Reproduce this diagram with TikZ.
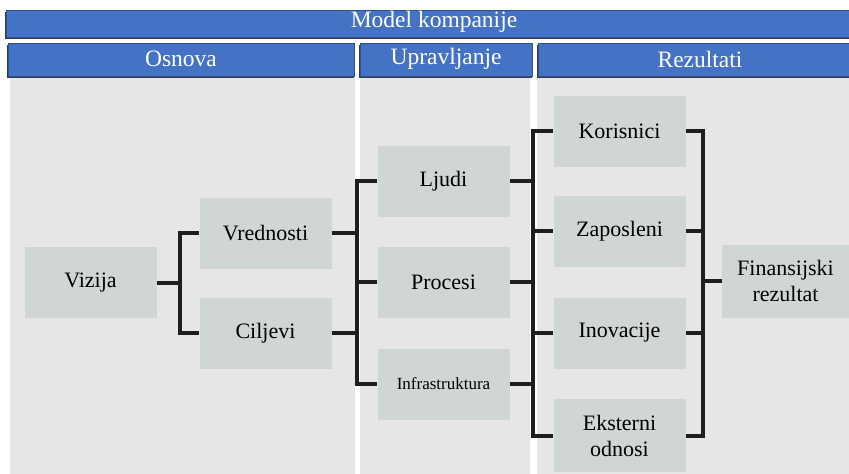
\documentclass[tikz,border=0pt]{standalone}
\usepackage{fontspec}
\setmainfont{Liberation Serif}
\definecolor{hdrblue}{HTML}{4472C4}
\definecolor{hdredge}{HTML}{2F528F}
\definecolor{hdrshadow}{HTML}{3A3A3A}
\definecolor{colbg}{HTML}{E6E6E6}
\definecolor{boxfill}{HTML}{D0D5D6}
\definecolor{linkc}{HTML}{1E1E1E}
\tikzset{
  header/.style={fill=hdrblue, draw=hdredge, line width=1pt},
  hdrshade/.style={fill=hdrshadow},
  hdrtext/.style={text=white, font=\fontsize{23.5}{26}\selectfont, inner sep=0pt},
  item/.style={fill=boxfill, minimum width=132pt, minimum height=71pt, inner sep=2pt,
    align=center, font=\fontsize{22}{26}\selectfont},
  link/.style={draw=linkc, line width=4pt, line join=miter}
}
\begin{document}
\begin{tikzpicture}[x=1pt,y=-1pt]
\useasboundingbox (0,0) rectangle (849,474);
\clip (0,0) rectangle (849,474);
\fill[white] (0,0) rectangle (849,474);

% column backgrounds
\fill[colbg] (10,78) rectangle (355,474);
\fill[colbg] (360,78) rectangle (530,474);
\fill[colbg] (537,78) rectangle (862,474);

% title bar
\fill[hdrshade] (5,11.5) rectangle (862,38.5);
\draw[header] (6,10) rectangle (862,37);
\node[hdrtext] (title) at (434,22) {Model kompanije};

% section headers
\fill[hdrshade] (7,44.5) rectangle (354,77.5);
\draw[header] (8,43) rectangle (354,76);
\node[hdrtext] (osn) at (181,59) {Osnova};
\fill[hdrshade] (359,44.5) rectangle (532,77.5);
\draw[header] (360,43) rectangle (532,76);
\node[hdrtext] (upr) at (446,59) {Upravljanje};
\fill[hdrshade] (537,44.5) rectangle (862,77.5);
\draw[header] (538,43) rectangle (862,76);
\node[hdrtext] (rez) at (700,59) {Rezultati};

% boxes
\node[item] (viz) at (90.5,282.5) {Vizija};
\node[item] (vre) at (265.5,233) {Vrednosti};
\node[item] (cil) at (265.5,333) {Ciljevi};
\node[item] (lju) at (443.5,181) {Ljudi};
\node[item] (pro) at (443.5,282) {Procesi};
\node[item, font=\fontsize{17}{20}\selectfont] (inf) at (443.5,384) {Infrastruktura};
\node[item] (kor) at (619.5,131) {Korisnici};
\node[item] (zap) at (619.5,231) {Zaposleni};
\node[item] (ino) at (619.5,333) {Inovacije};
\node[item, minimum height=73pt] (eks) at (619.5,435.5) {Eksterni\\odnosi};
\node[item, minimum width=127pt, minimum height=73pt] (fin) at (785.5,281) {Finansijski\\rezultat};

% bus positions
\coordinate (b1) at (180,0);
\coordinate (b2) at (357,0);
\coordinate (b3) at (533,0);
\coordinate (b4) at (703,0);

% Vizija -> Vrednosti / Ciljevi
\draw[link] (viz.east) -- (viz.east -| b1);
\draw[link] (vre.west) -| (b1 |- cil.west) -- (cil.west);

% Vrednosti / Ciljevi -> Ljudi / Procesi / Infrastruktura
\draw[link] (vre.east) -- (vre.east -| b2);
\draw[link] (cil.east) -- (cil.east -| b2);
\draw[link] (lju.west) -| (b2 |- inf.west) -- (inf.west);
\draw[link] (pro.west) -- (pro.west -| b2);

% Ljudi / Procesi / Infrastruktura -> results
\draw[link] (lju.east) -- (lju.east -| b3);
\draw[link] (pro.east) -- (pro.east -| b3);
\draw[link] (inf.east) -- (inf.east -| b3);
\draw[link] (kor.west) -| (b3 |- eks.west) -- (eks.west);
\draw[link] (zap.west) -- (zap.west -| b3);
\draw[link] (ino.west) -- (ino.west -| b3);

% results -> Finansijski rezultat
\draw[link] (kor.east) -| (b4 |- eks.east) -- (eks.east);
\draw[link] (zap.east) -- (zap.east -| b4);
\draw[link] (ino.east) -- (ino.east -| b4);
\draw[link] (fin.west) -- (fin.west -| b4);
\end{tikzpicture}
\end{document}
